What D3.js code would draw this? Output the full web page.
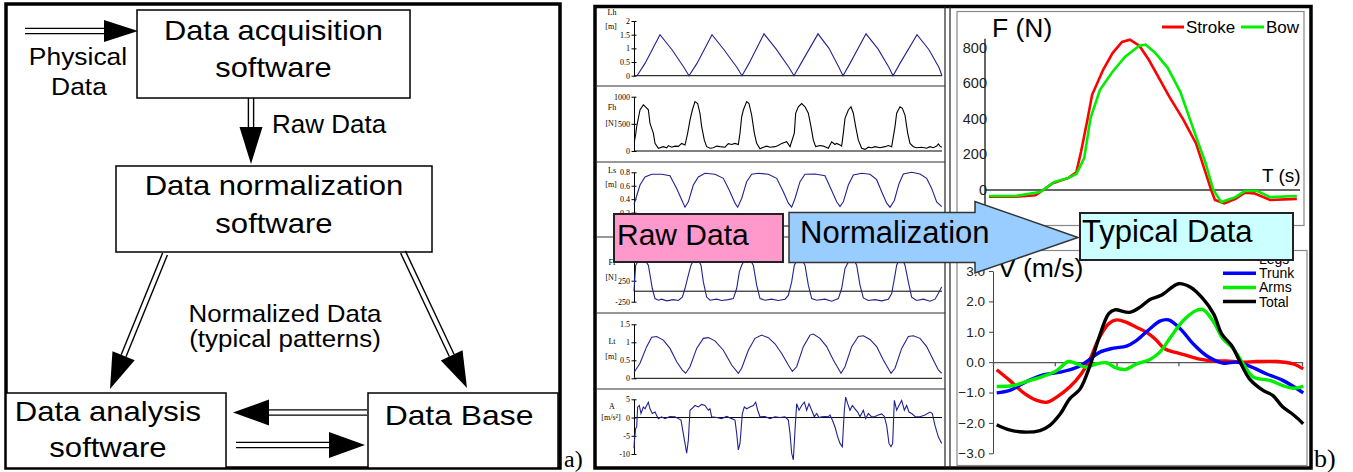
<!DOCTYPE html>
<html lang="en">
<head>
<meta charset="UTF-8">
<title>Rowing data processing</title>
<script src="https://cdn.jsdelivr.net/npm/d3@7"></script>
<style>
  body { margin: 0; background: #fff; }
  svg { display: block; font-family: "Liberation Sans", Arial, sans-serif; }
  .tiny { font-family: "Liberation Serif", "Times New Roman", serif; font-size: 8px; fill: #000; }
</style>
</head>
<body>
<svg width="1353" height="472"></svg>
<script>
// ---- raw records (middle panel), [sample, value] ----
const lhData = [[9,0],[33,0.45],[78,1.5],[114,0.95],[150,0.3],[165,0],[189,0.45],[234,1.5],[270,0.95],[309,0.3],[324,0],
  [345,0.45],[390,1.53],[426,0.98],[465,0.3],[480,0],[501,0.45],[552,1.53],[585,1.0],[615,0.3],[627,0],
  [648,0.45],[696,1.53],[732,0.98],[765,0.3],[777,0],[798,0.45],[849,1.5],[885,0.95],[915,0.3],[924,0]];
const fhData = [[1,170],[5,305],[8,450],[18,755],[28,850],[33,820],[43,760],[48,510],[58,330],[63,140],[73,50],[88,80],
  [98,60],[103,100],[113,70],[123,90],[133,85],[143,140],[153,110],[161,330],[168,570],[175,755],[183,910],[191,875],
  [198,690],[203,450],[211,200],[218,80],[228,50],[238,60],[248,90],[258,80],[273,70],[283,135],[293,120],[303,140],
  [313,120],[318,330],[323,630],[328,755],[338,910],[345,875],[353,660],[361,330],[368,140],[378,40],[388,70],[398,90],
  [408,70],[423,80],[433,100],[443,140],[458,170],[468,80],[481,330],[485,695],[493,815],[503,875],[513,815],[523,695],
  [531,450],[538,200],[545,80],[558,100],[568,90],[583,50],[593,170],[603,120],[608,140],[618,110],[623,90],[628,330],
  [633,600],[643,755],[651,815],[658,695],[665,450],[673,200],[683,50],[693,30],[703,70],[713,60],[723,80],[738,60],
  [753,80],[763,100],[773,80],[783,450],[788,695],[798,815],[805,785],[813,660],[821,330],[828,140],[838,80],[848,60],
  [863,70],[878,50],[888,80],[898,60],[908,90],[913,130],[918,90],[923,70]];
const lsData = [[0,0.32],[18,0.61],[33,0.73],[53,0.77],[83,0.77],[108,0.75],[128,0.56],[143,0.39],[153,0.28],[163,0.36],
  [178,0.61],[193,0.73],[213,0.785],[243,0.77],[268,0.71],[288,0.51],[303,0.34],[311,0.28],[323,0.41],[338,0.66],
  [353,0.77],[373,0.785],[403,0.77],[428,0.71],[448,0.51],[463,0.34],[473,0.28],[483,0.41],[498,0.66],[513,0.77],
  [543,0.775],[573,0.75],[593,0.53],[608,0.36],[618,0.29],[628,0.36],[643,0.61],[658,0.76],[683,0.785],[708,0.77],
  [728,0.69],[743,0.51],[758,0.34],[768,0.28],[781,0.38],[795,0.63],[808,0.775],[833,0.8],[858,0.775],[878,0.71],
  [893,0.56],[908,0.36],[923,0.29]];
const ffData = [[0,0],[5,619],[23,850],[43,619],[55,64],[63,-175],[73,-214],[83,-190],[98,-230],[118,-200],[133,-222],
  [145,-140],[153,64],[163,382],[171,619],[186,850],[201,619],[208,222],[218,-140],[228,-214],[248,-190],[263,-222],
  [283,-200],[298,-175],[308,64],[316,460],[323,619],[340,850],[358,619],[368,143],[378,-175],[393,-214],[413,-190],
  [433,-222],[453,-190],[463,-100],[473,222],[481,619],[497,850],[513,619],[523,143],[533,-175],[548,-214],[573,-190],
  [593,-238],[613,-175],[623,64],[633,540],[638,619],[653,850],[668,619],[678,143],[688,-159],[703,-222],[723,-200],
  [743,-230],[763,-190],[773,-56],[783,382],[788,619],[801,850],[813,619],[823,222],[833,-140],[848,-222],[868,-190],
  [888,-238],[903,-190],[913,-56],[923,103]];
const ltData = [[0,0.16],[18,0.42],[38,0.88],[53,1.14],[68,1.16],[88,1.06],[108,0.83],[128,0.46],[145,0.23],[155,0.14],
  [168,0.32],[188,0.83],[208,1.11],[223,1.13],[243,1.04],[268,0.78],[293,0.37],[313,0.14],[323,0.28],[343,0.78],
  [363,1.11],[383,1.2],[403,1.13],[423,0.96],[443,0.69],[463,0.37],[475,0.19],[488,0.32],[508,0.88],[528,1.2],
  [538,1.23],[558,1.11],[578,0.88],[598,0.51],[621,0.14],[633,0.32],[653,0.88],[673,1.16],[688,1.18],[708,1.08],
  [728,0.88],[748,0.51],[771,0.14],[783,0.28],[803,0.83],[823,1.16],[838,1.18],[858,1.11],[878,0.88],[898,0.51],
  [913,0.23],[923,0.14]];
const accData = [[0,-8.4],[1,-6.6],[5,-3],[8,-2.6],[11,2.9],[16,3.3],[21,1.1],[28,2.9],[33,2.4],[38,3.3],[43,4.2],[48,2.4],
  [55,1.1],[63,1.5],[73,-0.3],[83,0.2],[93,-0.3],[108,0.3],[123,0.2],[133,-0.3],[141,-0.7],[146,-3.4],[153,-7.1],
  [158,-9.8],[163,-6.2],[168,2],[173,2.4],[183,3.3],[193,2.9],[203,3.6],[213,3.3],[223,2],[228,2.4],[233,0.2],[248,0],
  [263,-0.3],[278,0.3],[293,-0.3],[303,-0.7],[308,-4.3],[313,-8.9],[318,-7.1],[325,1.1],[331,2.9],[338,2.4],[348,2.9],
  [358,3.3],[365,4.2],[371,2],[378,0.2],[393,0.3],[408,-0.3],[423,0.2],[438,0],[453,0.2],[463,-0.7],[468,-4.3],
  [473,-9.8],[478,-11.6],[483,-3.4],[488,3.8],[495,2],[503,3.3],[511,4.2],[518,2],[525,3.8],[533,2],[541,0.2],[548,1.1],
  [555,0],[563,0.2],[573,0.3],[583,0.2],[588,0.7],[595,-0.7],[603,-2.6],[611,-5.3],[618,-7.1],[625,-8],[631,2],[635,5.6],
  [641,3.8],[648,2],[655,3.3],[663,2.4],[671,1.5],[678,0.2],[688,2],[695,-0.3],[703,1.1],[713,0.2],[723,0.3],[733,0.7],
  [743,1],[751,0.3],[758,-2.2],[765,-7.1],[771,-8],[776,-7.1],[781,4.7],[788,2],[795,3.3],[803,4.7],[811,2],[818,3.3],
  [825,1.5],[833,1.1],[843,0.3],[858,0.2],[873,0.7],[888,1.5],[895,1.1],[903,-2.2],[913,-5.3],[923,-7.1]];

// ---- typical force curves, [T (s), F (N)] ----
const strokeF = [[0.025,-38],[0.19,-38],[0.32,-30],[0.35,-12],[0.43,38],[0.53,68],[0.58,100],[0.61,216],[0.65,394],
  [0.68,535],[0.75,676],[0.81,770],[0.87,832],[0.92,845],[0.98,811],[1.04,732],[1.17,525],[1.26,394],[1.34,262],
  [1.44,-10],[1.46,-56],[1.52,-75],[1.59,-50],[1.65,-15],[1.71,-19],[1.81,-56],[1.98,-50]];
const bowF = [[0.025,-34],[0.19,-34],[0.35,-11],[0.44,45],[0.53,68],[0.58,90],[0.63,180],[0.67,405],[0.73,563],
  [0.81,665],[0.89,749],[0.98,811],[1.02,817],[1.08,772],[1.16,687],[1.24,552],[1.34,300],[1.40,152],[1.45,0],
  [1.50,-68],[1.59,-40],[1.65,-6],[1.73,-6],[1.81,-40],[1.98,-34]];
const forceSeries = ['Stroke', 'Bow'];
const forceTicks = [0, 200, 400, 600, 800];

// ---- typical velocity curves, [t, V (m/s)] ----
const legsV = [[0.06,-0.25],[0.27,-0.6],[0.49,-1.0],[0.71,-1.26],[0.87,-1.32],[1.03,-1.15],[1.24,-0.82],[1.43,-0.38],
  [1.57,0.1],[1.71,0.77],[1.87,1.26],[2.0,1.39],[2.16,1.31],[2.32,1.15],[2.48,0.99],[2.62,0.77],[2.78,0.44],[2.97,0.31],
  [3.13,0.22],[3.32,0.11],[3.57,0.04],[3.78,0.04],[4.0,0],[4.27,0.02],[4.59,0.02],[4.86,-0.06],[5.02,-0.22]];
const trunkV = [[0.06,-1.01],[0.27,-0.93],[0.54,-0.64],[0.81,-0.42],[1.09,-0.33],[1.36,-0.17],[1.57,0.1],[1.73,0.33],
  [1.95,0.46],[2.16,0.53],[2.32,0.71],[2.54,1.1],[2.7,1.35],[2.84,1.39],[3.03,1.1],[3.24,0.6],[3.45,0.22],[3.72,-0.03],
  [3.94,0],[4.15,-0.13],[4.42,-0.38],[4.69,-0.6],[5.02,-1.01]];
const armsV = [[0.06,-0.8],[0.33,-0.77],[0.6,-0.6],[0.81,-0.47],[1.03,-0.28],[1.22,0.02],[1.36,-0.06],[1.51,-0.17],
  [1.67,-0.06],[1.84,-0.02],[1.97,-0.17],[2.14,-0.24],[2.32,-0.06],[2.54,0.09],[2.7,0.33],[2.89,0.87],[3.08,1.37],
  [3.29,1.7],[3.4,1.73],[3.57,1.32],[3.72,0.77],[3.89,0.44],[4.05,-0.06],[4.21,-0.49],[4.48,-0.6],[4.69,-0.77],
  [4.86,-0.86],[5.02,-0.8]];
const totalV = [[0.06,-2.06],[0.25,-2.22],[0.49,-2.3],[0.76,-2.25],[0.92,-2.08],[1.09,-1.7],[1.24,-1.21],[1.41,-0.88],
  [1.57,-0.11],[1.71,0.77],[1.87,1.59],[1.97,1.72],[2.21,1.64],[2.38,1.81],[2.54,2.06],[2.73,2.21],[3.0,2.58],[3.19,2.47],
  [3.4,2.08],[3.57,1.59],[3.7,0.93],[3.86,0.55],[4.0,0],[4.15,-0.55],[4.37,-0.93],[4.53,-1.1],[4.69,-1.48],[4.86,-1.73],
  [5.02,-2.03]];
const velSeries = ['Legs', 'Trunk', 'Arms', 'Total'];
const velTicks = [-3, -2, -1, 0, 1, 2, 3];

const svg = d3.select('svg');

function txt(g, x, y, s, size, anchor, sx) {
  return g.append('text')
    .attr('transform', `translate(${x},${y}) scale(${sx || 1},1)`)
    .attr('text-anchor', anchor || 'start')
    .attr('font-size', size)
    .text(s);
}

// double-shafted arrow with a filled head, tip at (x2,y2)
function dblArrow(g, x1, y1, x2, y2, hl, hw) {
  const len = Math.hypot(x2 - x1, y2 - y1);
  const ux = (x2 - x1) / len, uy = (y2 - y1) / len;
  const px = -uy, py = ux;
  const bx = x2 - ux * hl, by = y2 - uy * hl;
  [-2.6, 2.6].forEach(o => {
    g.append('line')
      .attr('x1', x1 + px * o).attr('y1', y1 + py * o)
      .attr('x2', bx + px * o).attr('y2', by + py * o)
      .attr('stroke', '#000').attr('stroke-width', 1.4);
  });
  g.append('path')
    .attr('d', `M${x2},${y2}L${bx + px * hw},${by + py * hw}L${bx - px * hw},${by - py * hw}Z`)
    .attr('fill', '#000');
}

// ================= a) flow chart =================
const left = svg.append('g');
left.append('rect').attr('x', 6).attr('y', 4).attr('width', 554).attr('height', 464)
  .attr('fill', 'none').attr('stroke', '#000').attr('stroke-width', 3.5);

const boxes = [[137, 10, 273, 88], [116, 166, 316, 86], [6, 393, 220, 75], [368, 393, 190, 75]];
boxes.forEach(b => left.append('rect').attr('x', b[0]).attr('y', b[1]).attr('width', b[2]).attr('height', b[3])
  .attr('fill', '#fff').attr('stroke', '#000').attr('stroke-width', 1.5));

txt(left, 273.5, 39.5, 'Data acquisition', 27, 'middle', 1.14);
txt(left, 273.5, 77, 'software', 27, 'middle', 1.14);
txt(left, 274, 195, 'Data normalization', 27, 'middle', 1.15);
txt(left, 274, 233, 'software', 27, 'middle', 1.15);
txt(left, 108, 421, 'Data analysis', 27, 'middle', 1.15);
txt(left, 108, 457, 'software', 27, 'middle', 1.15);
txt(left, 459, 425, 'Data Base', 27, 'middle', 1.18);
txt(left, 78, 65, 'Physical', 24, 'middle', 1.1);
txt(left, 79, 95, 'Data', 24, 'middle', 1.1);
txt(left, 272, 133, 'Raw Data', 25, 'start', 1.04);
txt(left, 285, 322, 'Normalized Data', 24, 'middle', 1.08);
txt(left, 285, 347, '(typical patterns)', 24, 'middle', 1.08);

dblArrow(left, 25, 31, 138, 31, 34, 11);
dblArrow(left, 251, 98, 251, 164, 37, 11.5);
dblArrow(left, 165, 254, 110, 389, 36, 12);
dblArrow(left, 403, 252, 467, 388, 36, 12);
dblArrow(left, 367, 412.5, 233, 412.5, 36, 13);
dblArrow(left, 236, 445, 365, 445, 36, 13);

left.append('text').attr('x', 564).attr('y', 467)
  .attr('font-family', '"Liberation Serif", "Times New Roman", serif').attr('font-size', 24).text('a)');

// ================= b) frame =================
const frame = svg.append('g');
frame.append('rect').attr('x', 595).attr('y', 6.5).attr('width', 716).attr('height', 461.5)
  .attr('fill', 'none').attr('stroke', '#000').attr('stroke-width', 3.5);
frame.append('line').attr('x1', 945).attr('x2', 945).attr('y1', 6.5).attr('y2', 468).attr('stroke', '#222').attr('stroke-width', 1.2);
frame.append('line').attr('x1', 950).attr('x2', 950).attr('y1', 6.5).attr('y2', 468).attr('stroke', '#222').attr('stroke-width', 1.2);
[86, 162, 237, 313, 389].forEach(y => frame.append('line')
  .attr('x1', 597).attr('x2', 945).attr('y1', y).attr('y2', y).attr('stroke', '#333').attr('stroke-width', 1.2));

// ---- raw record strips ----
const xRaw = d3.scaleLinear().domain([0, 924]).range([634, 942]);
const navy = '#22228f';
const strips = [
  { name: 'Lh', unit: '[m]', ny: [15, 29], data: lhData, dom: [0, 2], rng: [75.7, 21], ticks: [0, 0.5, 1, 1.5, 2], color: navy },
  { name: 'Fh', unit: '[N]', ny: [110, 126], data: fhData, dom: [0, 1000], rng: [151, 96.7], ticks: [0, 500, 1000], color: '#000' },
  { name: 'Ls', unit: '[m]', ny: [173, 187], data: lsData, dom: [0, 0.8], rng: [226, 172.3], ticks: [0.2, 0.4, 0.6, 0.8], color: navy },
  { name: 'Ff', unit: '[N]', ny: [265, 280], data: ffData, dom: [-250, 750], rng: [301.7, 259.7], ticks: [-250, 250], color: navy },
  { name: 'Lt', unit: '[m]', ny: [344, 359], data: ltData, dom: [0, 1.5], rng: [378.3, 324.3], ticks: [0, 0.5, 1, 1.5], color: navy },
  { name: 'A', unit: '[m/s²]', ny: [409, 420], data: accData, dom: [-10, 5], rng: [454, 399.3], ticks: [-10, -5, 0, 5], color: navy }
];

strips.forEach(s => {
  const g = svg.append('g');
  const y = d3.scaleLinear().domain(s.dom).range(s.rng);
  g.append('line').attr('x1', xRaw(0)).attr('x2', xRaw(924)).attr('y1', y(0)).attr('y2', y(0))
    .attr('stroke', '#000').attr('stroke-width', 1);
  const ax = g.append('g').attr('transform', `translate(${xRaw(0)},0)`)
    .call(d3.axisLeft(y).tickValues(s.ticks).tickFormat(d => String(d)).tickSize(2.5).tickSizeOuter(0).tickPadding(1.5));
  ax.attr('font-size', null).attr('font-family', null);
  ax.selectAll('line').attr('x1', 2.5).attr('stroke', '#000');
  ax.select('.domain').attr('stroke', '#000');
  ax.selectAll('text').attr('class', 'tiny').attr('fill', null);
  g.append('path').datum(s.data)
    .attr('d', d3.line().x(d => xRaw(d[0])).y(d => y(d[1])))
    .attr('fill', 'none').attr('stroke', s.color).attr('stroke-width', 1.1);
  g.append('text').attr('class', 'tiny').attr('x', 612).attr('y', s.ny[0]).attr('text-anchor', 'middle').text(s.name);
  g.append('text').attr('class', 'tiny').attr('x', 611).attr('y', s.ny[1]).attr('text-anchor', 'middle').text(s.unit);
});

// ---- F (N) chart ----
const fg = svg.append('g');
fg.append('rect').attr('x', 957).attr('y', 11.5).attr('width', 347).attr('height', 214)
  .attr('fill', '#fff').attr('stroke', '#888').attr('stroke-width', 1.2);
const xF = d3.scaleLinear().domain([0, 2]).range([985, 1300]);
const yF = d3.scaleLinear().domain([0, 800]).range([190, 47.7]);
fg.append('line').attr('x1', xF(0)).attr('x2', xF(0)).attr('y1', yF(850)).attr('y2', yF(-115))
  .attr('stroke', '#333').attr('stroke-width', 1.5);
fg.append('line').attr('x1', xF(0)).attr('x2', xF(2)).attr('y1', yF(0)).attr('y2', yF(0))
  .attr('stroke', '#333').attr('stroke-width', 1.5);
fg.selectAll('text.ftick').data(forceTicks).enter().append('text')
  .attr('class', 'ftick').attr('x', xF(0) + 2).attr('y', d => yF(d) + 5)
  .attr('text-anchor', 'end').attr('font-size', 14.5).attr('fill', '#222').text(d => d);
const fColor = d3.scaleOrdinal(forceSeries, ['#ff0000', '#00ee00']);
const fLine = d3.line().x(d => xF(d[0])).y(d => yF(d[1]));
[strokeF, bowF].forEach((s, i) => fg.append('path').datum(s).attr('d', fLine)
  .attr('fill', 'none').attr('stroke', fColor(forceSeries[i])).attr('stroke-width', 2.6));
txt(fg, 992, 37, 'F (N)', 26.5, 'start');
txt(fg, 1262, 182, 'T (s)', 19, 'start');
const fLeg = [[1162, 1184, 1186], [1241, 1264, 1266]];
forceSeries.forEach((n, i) => {
  fg.append('line').attr('x1', fLeg[i][0]).attr('x2', fLeg[i][1]).attr('y1', 27).attr('y2', 27)
    .attr('stroke', fColor(n)).attr('stroke-width', 3);
  txt(fg, fLeg[i][2], 33, n, 17, 'start');
});

// ---- V (m/s) chart ----
const vg = svg.append('g');
vg.append('rect').attr('x', 957).attr('y', 250.5).attr('width', 350).attr('height', 215)
  .attr('fill', '#fff').attr('stroke', '#888').attr('stroke-width', 1.2);
const xV = d3.scaleLinear().domain([0, 5]).range([993, 1302]);
const yV = d3.scaleLinear().domain([-3, 3]).range([453.3, 271]);
const vAxY = vg.append('g').attr('transform', `translate(${xV(0)},0)`)
  .call(d3.axisLeft(yV).tickValues(velTicks).tickFormat(d3.format('.1f')).tickSize(4).tickSizeOuter(0).tickPadding(4));
vAxY.attr('font-family', null);
vAxY.selectAll('text').attr('font-size', 13.5).attr('fill', '#222');
vAxY.selectAll('line, .domain').attr('stroke', '#444');
const vAxX = vg.append('g').attr('transform', `translate(0,${yV(0)})`)
  .call(d3.axisBottom(xV).ticks(5).tickFormat('').tickSize(4).tickSizeOuter(0));
vAxX.selectAll('line, .domain').attr('stroke', '#555').attr('stroke-width', 1.3);
const vColor = d3.scaleOrdinal(velSeries, ['#ff0000', '#0000ff', '#00ee00', '#000000']);
const vLine = d3.line().curve(d3.curveCatmullRom).x(d => xV(d[0])).y(d => yV(d[1]));
[legsV, trunkV, armsV, totalV].forEach((s, i) => vg.append('path').datum(s).attr('d', vLine)
  .attr('fill', 'none').attr('stroke', vColor(velSeries[i])).attr('stroke-width', 3.4).attr('stroke-linejoin', 'round'));
txt(vg, 998, 277, 'V (m/s)', 26.5, 'start');
velSeries.forEach((n, i) => {
  const ly = 259 + i * 14.2;
  vg.append('line').attr('x1', 1223).attr('x2', 1256).attr('y1', ly).attr('y2', ly)
    .attr('stroke', vColor(n)).attr('stroke-width', 3.5);
  txt(vg, 1259, ly + 5, n, 14, 'start');
});

// ---- overlay: Raw Data -> Normalization -> Typical Data ----
const ov = svg.append('g');
ov.append('rect').attr('x', 614).attr('y', 214).attr('width', 169).attr('height', 48)
  .attr('fill', '#ff99cc').attr('stroke', '#222').attr('stroke-width', 2);
txt(ov, 617, 245, 'Raw Data', 30, 'start');
ov.append('path')
  .attr('d', 'M789,212.5L975,212.5L975,201.5L1078,237.5L975,273L975,262.5L789,262.5Z')
  .attr('fill', '#99ccff').attr('stroke', '#333').attr('stroke-width', 1.5);
txt(ov, 800, 243, 'Normalization', 31, 'start');
ov.append('rect').attr('x', 1080).attr('y', 213).attr('width', 213).attr('height', 47)
  .attr('fill', '#ccffff').attr('stroke', '#222').attr('stroke-width', 2);
txt(ov, 1082, 242, 'Typical Data', 31, 'start');

svg.append('text').attr('x', 1314).attr('y', 467)
  .attr('font-family', '"Liberation Serif", "Times New Roman", serif').attr('font-size', 26).text('b)');
</script>
</body>
</html>
